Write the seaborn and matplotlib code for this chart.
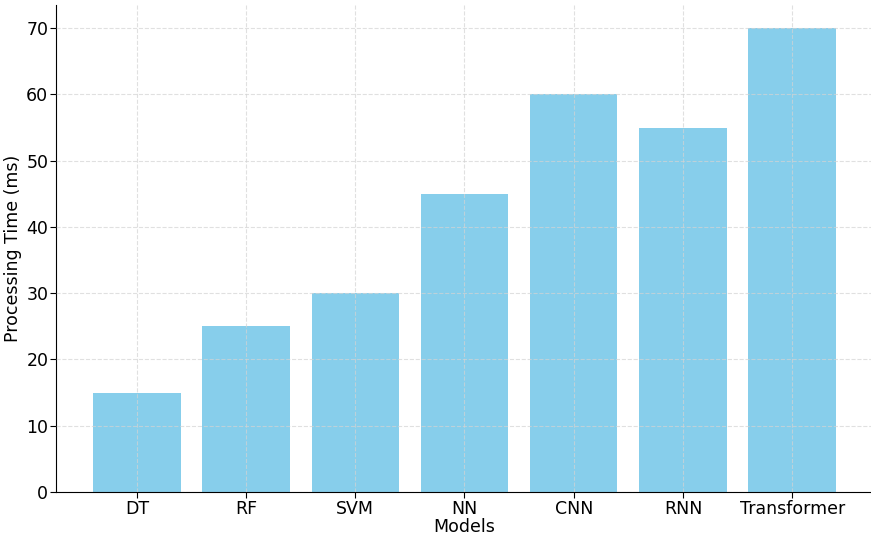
import matplotlib
matplotlib.use("Agg")
import matplotlib.pyplot as plt
import seaborn as sns
import pandas as pd

models = ["DT", "RF", "SVM", "NN", "CNN", "RNN", "Transformer"]
times = [15, 25, 30, 45, 60, 55, 70]

sns.set_style("ticks")
plt.rcParams['font.family'] = ['DejaVu Sans']
plt.rcParams.update({"text.color": "black", "axes.labelcolor": "black",
                     "xtick.color": "black", "ytick.color": "black",
                     "axes.edgecolor": "black"})

df = pd.DataFrame({"Models": models, "Processing Time (ms)": times})

fig = plt.figure(figsize=(8.71, 5.39), dpi=100)
ax = fig.add_axes([56/871, (539-492)/539, 1 - 56/871 + 2/871, (492-5)/539])
sns.barplot(data=df, x="Models", y="Processing Time (ms)", color="skyblue",
            saturation=1, width=0.8, linewidth=0, ax=ax)
ax.set_xlim(-0.74, 6.74)
ax.set_ylim(0, 73.5)
ax.set_axisbelow(False)
ax.grid(True, linestyle="--", color="lightgray", alpha=0.7, linewidth=0.8)
for s in ["top", "right"]:
    ax.spines[s].set_visible(False)
ax.tick_params(labelsize=12.5, length=4, pad=1.5)
ax.set_xlabel("Models", fontsize=12.5, labelpad=0.5)
ax.set_ylabel("Processing Time (ms)", fontsize=12.5, labelpad=3)
fig.savefig("out.png", dpi=100)
